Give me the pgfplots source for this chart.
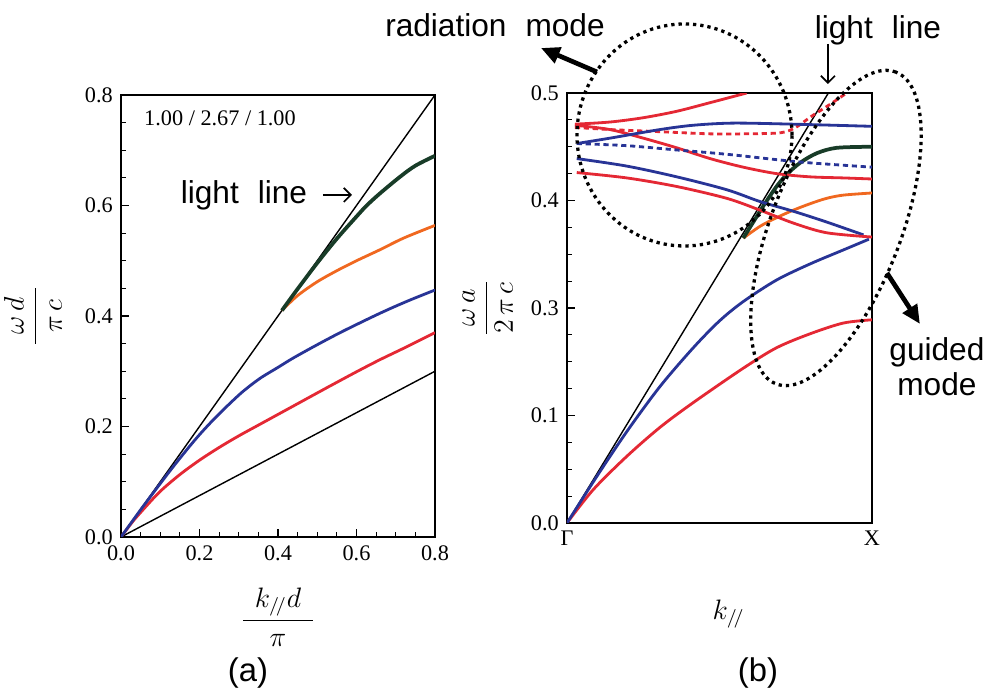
\documentclass[border=0pt]{standalone}
\usepackage{fontspec}
\setmainfont{Liberation Serif}
\newfontfamily\annfont{Liberation Sans}
\usepackage{amsmath}
\usepackage{pgfplots}
\pgfplotsset{compat=1.18}
\usetikzlibrary{arrows.meta}

\definecolor{bandred}{RGB}{228,40,52}
\definecolor{bandblue}{RGB}{40,52,150}
\definecolor{bandorange}{RGB}{240,104,32}
\definecolor{bandgreen}{RGB}{24,60,40}

\pgfplotsset{
  panel/.style={
    scale only axis, anchor=south west,
    axis line style={line width=0.6pt},
    tick align=inside, tick pos=left,
    every tick/.style={black, line width=0.5pt},
    major tick length=3.5pt, minor tick length=2pt,
    ticklabel style={font=\fontsize{9.5}{11}\selectfont},
    /pgf/number format/assume math mode=true,
    /pgf/number format/fixed,
    /pgf/number format/fixed zerofill,
    /pgf/number format/precision=1,
    label style={font=\fontsize{11.5}{14}\selectfont},
  },
  band/.style={line width=1.2pt, smooth},
  thinline/.style={black, line width=0.6pt},
}
\tikzset{
  dotring/.style={black, line width=1.4pt, dash pattern=on 1.4pt off 1.7pt},
  fatarrow/.style={line width=2pt, -{Triangle[length=8pt,width=7pt]}},
}

\begin{document}
\begin{tikzpicture}
\useasboundingbox (0,0) rectangle (14.85cm,10.335cm);

%% (a) slab dispersion
\begin{axis}[panel,
  at={(1.815cm,2.28cm)}, width=4.71cm, height=6.63cm,
  xmin=0, xmax=0.8, ymin=0, ymax=0.8,
  xtick={0,0.2,0.4,0.6,0.8}, ytick={0,0.2,0.4,0.6,0.8},
  minor tick num=3,
  xlabel={$\dfrac{\hspace{5pt}k_{/\!/}d\hspace{5pt}}{\pi}$},
  xlabel style={at={(axis description cs:0.5,-0.181)}, anchor=center},
  ylabel={$\dfrac{\hspace{4pt}\omega\, d\hspace{4pt}}{\pi\, c}$},
  ylabel style={at={(axis description cs:-0.28,0.5)}, anchor=center},
]
\addplot[thinline] coordinates {(0,0)(0.8,0.8)};
\addplot[thinline] coordinates {(0,0)(0.8,0.30)};
\addplot[band, bandred] coordinates {
  (0,0)(0.03,0.028)(0.057,0.050)(0.099,0.082)(0.15,0.113)(0.2,0.139)
  (0.25,0.162)(0.3,0.183)(0.354,0.204)(0.439,0.237)(0.524,0.270)
  (0.6,0.299)(0.66,0.321)(0.73,0.345)(0.8,0.37)};
\addplot[band, bandblue] coordinates {
  (0,0)(0.057,0.056)(0.124,0.119)(0.17,0.160)(0.201,0.186)(0.235,0.212)
  (0.269,0.236)(0.31,0.263)(0.354,0.287)(0.4,0.307)(0.439,0.324)
  (0.5,0.348)(0.567,0.373)(0.66,0.405)(0.73,0.427)(0.8,0.447)};
\addplot[band, bandorange] coordinates {
  (0.41,0.41)(0.45,0.437)(0.5,0.462)(0.55,0.482)(0.6,0.500)
  (0.66,0.520)(0.72,0.541)(0.8,0.564)};
\addplot[bandgreen, line width=1.6pt, smooth] coordinates {
  (0.41,0.41)(0.45,0.449)(0.5,0.496)(0.55,0.540)(0.6,0.580)(0.626,0.600)
  (0.66,0.622)(0.711,0.652)(0.75,0.672)(0.8,0.69)};
\end{axis}

%% (b) photonic crystal slab bands, Gamma -> X
\begin{axis}[panel,
  at={(8.505cm,2.49cm)}, width=4.575cm, height=6.45cm,
  xmin=0, xmax=1, ymin=0, ymax=0.4,
  xtick={0,1}, xticklabels={Γ,X},
  x tick style={draw=none},
  ytick={0,0.1,0.2,0.3,0.4}, yticklabels={0.0,0.1,0.3,0.4,0.5},
  minor y tick num=3,
  xlabel={$k_{/\!/}$},
  xlabel style={at={(axis description cs:0.53,-0.212)}, anchor=center},
  ylabel={$\dfrac{\hspace{3pt}\omega\, a\hspace{3pt}}{2\,\pi\, c}$},
  ylabel style={at={(axis description cs:-0.26,0.5)}, anchor=center},
]
% light line
\addplot[thinline] coordinates {(0,0)(0.857,0.4)};
% guided modes
\addplot[band, bandred] coordinates {
  (0,0)(0.086,0.031)(0.196,0.062)(0.305,0.089)(0.414,0.112)(0.578,0.144)
  (0.687,0.163)(0.797,0.176)(0.906,0.186)(1.0,0.189)};
\addplot[band, bandblue] coordinates {
  (0,0)(0.097,0.043)(0.196,0.085)(0.305,0.127)(0.414,0.163)(0.500,0.188)
  (0.578,0.206)(0.687,0.226)(0.797,0.241)(0.906,0.254)(0.99,0.264)};
\addplot[band, bandorange] coordinates {
  (0.578,0.265)(0.633,0.276)(0.687,0.284)(0.742,0.291)(0.797,0.297)
  (0.851,0.302)(0.906,0.305)(1.0,0.307)};
\addplot[bandgreen, line width=1.6pt, smooth] coordinates {
  (0.578,0.265)(0.644,0.295)(0.687,0.313)(0.720,0.324)(0.764,0.335)
  (0.819,0.344)(0.884,0.349)(1.0,0.350)};
% radiation modes
\addplot[band, bandred] coordinates {
  (0.026,0.371)(0.141,0.373)(0.250,0.377)(0.360,0.383)(0.469,0.391)(0.589,0.400)};
\addplot[band, bandred] coordinates {
  (0.026,0.370)(0.141,0.366)(0.250,0.358)(0.360,0.349)(0.469,0.339)
  (0.578,0.331)(0.687,0.325)(0.797,0.322)(0.906,0.321)(1.0,0.320)};
\addplot[band, bandred, dash pattern=on 2.2pt off 1.6pt] coordinates {
  (0.026,0.368)(0.141,0.366)(0.305,0.364)(0.469,0.362)(0.578,0.362)
  (0.700,0.363)(0.750,0.368)(0.800,0.378)(0.860,0.389)(0.917,0.400)};
\addplot[band, bandblue] coordinates {
  (0.032,0.353)(0.141,0.358)(0.305,0.366)(0.414,0.370)(0.545,0.372)
  (0.742,0.371)(1.0,0.369)};
\addplot[band, bandblue, dash pattern=on 2.2pt off 1.6pt] coordinates {
  (0.032,0.353)(0.196,0.351)(0.360,0.347)(0.524,0.343)(0.687,0.338)
  (0.797,0.335)(1.0,0.331)};
\addplot[band, bandblue] coordinates {
  (0.032,0.339)(0.196,0.332)(0.360,0.322)(0.524,0.310)(0.633,0.299)
  (0.742,0.290)(0.851,0.280)(0.972,0.268)};
\addplot[band, bandred] coordinates {
  (0.032,0.326)(0.196,0.321)(0.360,0.313)(0.524,0.302)(0.633,0.291)
  (0.742,0.279)(0.851,0.270)(1.0,0.266)};
\end{axis}

%% annotations, in image pixels
\begin{scope}[x=0.015cm, y=-0.015cm, shift={(0cm,10.335cm)}]
  \node[font=\fontsize{9.5}{11}\selectfont] at (220,118) {1.00 / 2.67 / 1.00};
  \node[font=\annfont\fontsize{13.5}{15}\selectfont] at (244,195) {light\hspace{0.6em}line};
  \draw[line width=0.7pt, -{Straight Barb[length=3pt]}] (323,195) -- (352,195);

  \node[font=\annfont\fontsize{13.5}{15}\selectfont] at (495,25) {radiation\hspace{0.6em}mode};
  \draw[fatarrow] (597,72) -- (541,48);
  \draw[dotring] (684.5,135) ellipse [x radius=1.6125cm, y radius=1.665cm];

  \node[font=\annfont\fontsize{13.5}{15}\selectfont] at (878,30) {light\hspace{0.6em}line};
  \draw[line width=0.7pt, -{Straight Barb[length=3pt]}] (828,44) -- (828,84);

  \draw[dotring, rotate around={69:(836,228)}] (836,228) ellipse [x radius=2.505cm, y radius=0.975cm];
  \draw[fatarrow] (887,273) -- (920,324);
  \node[font=\annfont\fontsize{13.5}{15}\selectfont, align=center] at (937,367) {guided\\mode};

  \node[font=\annfont\fontsize{14}{16}\selectfont] at (248,673) {(a)};
  \node[font=\annfont\fontsize{14}{16}\selectfont] at (758,673) {(b)};
\end{scope}
\end{tikzpicture}
\end{document}
